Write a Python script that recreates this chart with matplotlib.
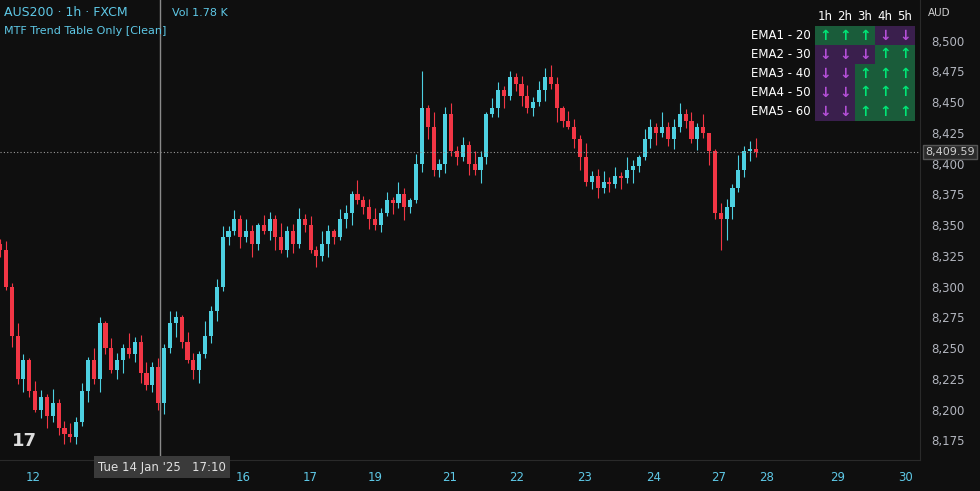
import numpy as np
import matplotlib
matplotlib.use("Agg")
import matplotlib.pyplot as plt
from matplotlib.patches import Rectangle

# hourly-ish closes
closes = [8330, 8300, 8260, 8225, 8240, 8215, 8200, 8210, 8195, 8205,
          8185, 8180, 8178, 8190, 8215, 8240, 8225, 8270, 8250, 8232,
          8240, 8250, 8245, 8255, 8230, 8220, 8235, 8205, 8250, 8270,
          8275, 8255, 8240, 8232, 8245, 8260, 8280, 8300, 8340, 8345,
          8355, 8340, 8345, 8335, 8350, 8345, 8355, 8340, 8330, 8345,
          8335, 8355, 8350, 8330, 8325, 8335, 8345, 8340, 8355, 8360,
          8375, 8370, 8365, 8355, 8350, 8360, 8370, 8368, 8375, 8365,
          8370, 8400, 8445, 8430, 8395, 8400, 8440, 8410, 8405, 8415,
          8400, 8395, 8405, 8440, 8445, 8460, 8455, 8470, 8465, 8455,
          8445, 8450, 8460, 8470, 8465, 8445, 8435, 8430, 8420, 8405,
          8385, 8390, 8380, 8385, 8383, 8390, 8388, 8395, 8398, 8405,
          8420, 8430, 8425, 8430, 8420, 8430, 8440, 8435, 8420, 8430,
          8425, 8410, 8360, 8355, 8365, 8380, 8395, 8410, 8412, 8409.59]
first_open = 8335
wick_up = [4, 7, 3, 10, 5, 2, 8, 6, 3, 12, 4, 6, 9]
wick_dn = [6, 3, 9, 4, 11, 5, 2, 7, 10, 3, 6, 8, 4]
spikes_high = {72: 8475, 87: 8475, 93: 8478, 121: 8418}
spikes_low = {9: 8190, 27: 8200, 74: 8390, 123: 8330, 124: 8338}

last_price = 8409.59
day_labels = ["12", "16", "17", "19", "21", "22", "23", "24", "27", "28", "29", "30"]
day_pos = [5.6, 41.5, 53, 64, 76.8, 88.2, 99.8, 111.5, 122.6, 130.8, 143, 154.5]
y_ticks = list(range(8175, 8501, 25))

rows = ["EMA1 - 20", "EMA2 - 30", "EMA3 - 40", "EMA4 - 50", "EMA5 - 60"]
cols = ["1h", "2h", "3h", "4h", "5h"]
trend = [[1, 1, 1, 0, 0],
         [0, 0, 0, 1, 1],
         [0, 0, 1, 1, 1],
         [0, 0, 1, 1, 1],
         [0, 0, 1, 1, 1]]

bg = "#0f0f0f"
up_c = "#4dd0e1"
dn_c = "#f23645"
W, H = 980, 491

fig = plt.figure(figsize=(9.8, 4.91), dpi=100, facecolor=bg)
ax = fig.add_axes([0, 31 / H, 920 / W, 460 / H], facecolor=bg)

opens = [first_open] + closes[:-1]
for i, (o, c) in enumerate(zip(opens, closes)):
    col = up_c if c >= o else dn_c
    hi = spikes_high.get(i, max(o, c) + wick_up[i % 13])
    lo = spikes_low.get(i, min(o, c) - wick_dn[i % 13])
    ax.vlines(i, lo, hi, color=col, lw=0.8)
    ax.add_patch(Rectangle((i - 0.35, min(o, c)), 0.7, max(abs(c - o), 0.6),
                           color=col, lw=0))

ax.set_xlim(0, 157)
ax.set_ylim(8159, 8533)
ax.axhline(last_price, color="#9a9a9a", lw=0.8, ls=(0, (1, 2)))
ax.axvline(27.3, color="#8a8a8a", lw=1)

ax.yaxis.tick_right()
ax.set_yticks(y_ticks)
ax.set_yticklabels([f"{v:,}" for v in y_ticks], color="#b2b5be", fontsize=8.5)
ax.set_xticks(day_pos)
ax.set_xticklabels(day_labels, color="#5ec8e6", fontsize=8.5)
ax.tick_params(length=0, pad=8)
for s in ["top", "left"]:
    ax.spines[s].set_visible(False)
ax.spines["right"].set_color("#2a2a2a")
ax.spines["bottom"].set_color("#2a2a2a")

# price label and crosshair date
ax.text(1.006, (last_price - 8159) / (8533 - 8159), "8,409.59", transform=ax.transAxes,
        color="#cfcfcf", fontsize=8, va="center", ha="left",
        bbox=dict(boxstyle="square,pad=0.2", fc="#2a2a2a", ec="#555555"))
fig.text(98 / W, 1 - 467 / H, "Tue 14 Jan '25   17:10", color="#e0e0e0", fontsize=8.5,
         va="center", bbox=dict(boxstyle="square,pad=0.35", fc="#3a3a3a", ec="none"))

# header texts
fig.text(4 / W, 1 - 13 / H, "AUS200 · 1h · FXCM", color="#5ec8e6", fontsize=9, va="center")
fig.text(172 / W, 1 - 13 / H, "Vol 1.78 K", color="#5ec8e6", fontsize=8, va="center")
fig.text(4 / W, 1 - 31 / H, "MTF Trend Table Only [Clean]", color="#5ec8e6", fontsize=8, va="center")
fig.text(928 / W, 1 - 13 / H, "AUD", color="#cfcfcf", fontsize=7.5, va="center")
fig.text(12 / W, 1 - 441 / H, "17", color="#dddddd", fontsize=13, fontweight="bold", va="center")

# trend table
cw, ch = 20, 19
x0, y0 = 815, 26
for j, c in enumerate(cols):
    fig.text((x0 + cw * j + cw / 2) / W, 1 - 16 / H, c, color="white", fontsize=8.5,
             ha="center", va="center")
for r, name in enumerate(rows):
    yc = y0 + ch * r + ch / 2
    fig.text((x0 - 4) / W, 1 - yc / H, name, color="white", fontsize=8.5,
             ha="right", va="center")
    for j in range(5):
        upv = trend[r][j]
        fig.patches.append(Rectangle(((x0 + cw * j) / W, 1 - (y0 + ch * (r + 1)) / H),
                                     cw / W, ch / H, transform=fig.transFigure,
                                     color="#1a5c3a" if upv else "#3a1f4d", lw=0))
        fig.text((x0 + cw * j + cw / 2) / W, 1 - yc / H, "↑" if upv else "↓",
                 color="#00e676" if upv else "#b54fd8", fontsize=10, fontweight="bold",
                 ha="center", va="center")

fig.savefig("out.png", dpi=100, facecolor=bg)
